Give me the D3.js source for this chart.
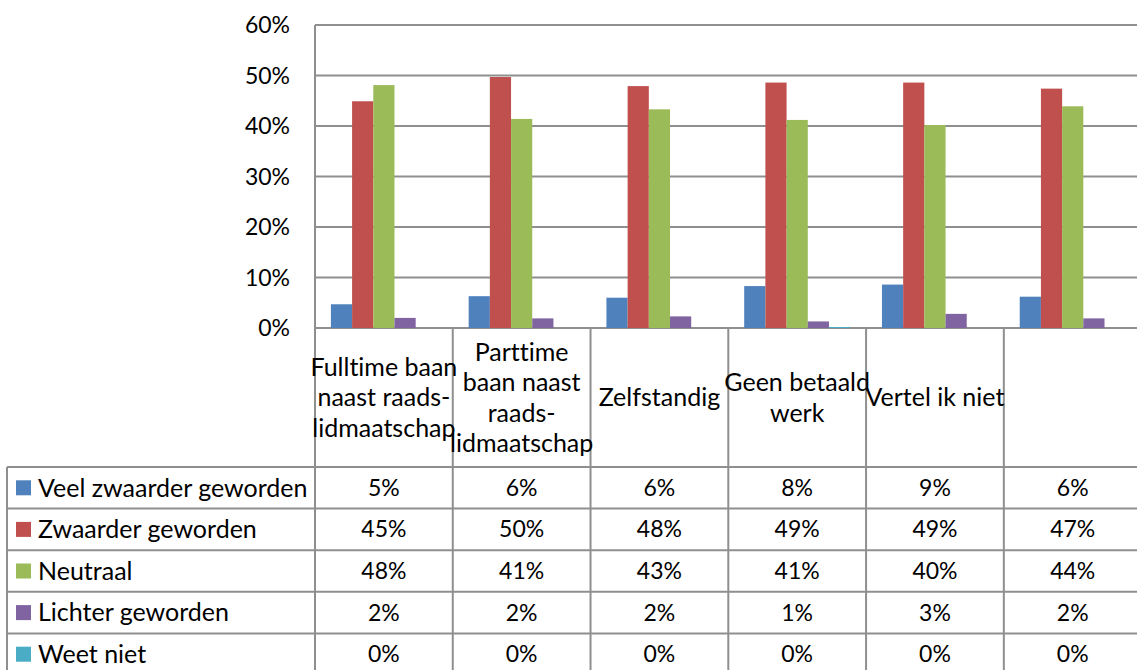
<!DOCTYPE html>
<html>
<head>
<meta charset="utf-8">
<script src="https://cdn.jsdelivr.net/npm/d3@7"></script>
<style>
  body { margin: 0; background: #fff; }
  svg text { font-family: Lato, "Open Sans", sans-serif; fill: #000; font-variant-ligatures: none; }
</style>
</head>
<body>
<div id="chart"></div>
<script>
// categories (header row of the data table), wrapped as in the original
const categories = [
  ["Fulltime baan", "naast raads-", "lidmaatschap"],
  ["Parttime", "baan naast", "raads-", "lidmaatschap"],
  ["Zelfstandig"],
  ["Geen betaald", "werk"],
  ["Vertel ik niet"],
  [""]
];

const seriesNames = ["Veel zwaarder geworden", "Zwaarder geworden", "Neutraal", "Lichter geworden", "Weet niet"];
const seriesColors = ["#4F81BD", "#C0504D", "#9BBB59", "#8064A2", "#4BACC6"];

// percentages per category
const veelZwaarder = [4.7, 6.3, 6.0, 8.3, 8.6, 6.2];
const zwaarder     = [44.9, 49.7, 47.9, 48.6, 48.6, 47.4];
const neutraal     = [48.1, 41.4, 43.3, 41.2, 40.2, 43.9];
const lichter      = [2.0, 1.9, 2.3, 1.3, 2.8, 1.9];
const weetNiet     = [0, 0, 0, 0.2, 0, 0];

const yTicks = [0, 10, 20, 30, 40, 50, 60];

const series = [veelZwaarder, zwaarder, neutraal, lichter, weetNiet];

const width = 1137, height = 670;
const plotLeft = 315, plotRight = 1141.6, plotTop = 25, plotBottom = 328;
const headerBottom = 467, rowH = 41.6, tableLeft = 7;
const gridColor = "#8f8f8f";
const numSize = 23;   // percentages
const wordSize = 25;  // names and categories

const svg = d3.select("#chart").append("svg")
  .attr("width", width).attr("height", height);

const y = d3.scaleLinear().domain([0, 60]).range([plotBottom, plotTop]);
const x = d3.scaleBand().domain(d3.range(categories.length)).range([plotLeft, plotRight]);
const step = x.bandwidth();
const barW = step / 6.5; // gap width 150%
const xSub = d3.scaleBand().domain(d3.range(series.length))
  .range([barW * 0.75, step - barW * 0.75]);

// gridlines
svg.append("g").selectAll("line").data(yTicks).enter().append("line")
  .attr("x1", plotLeft).attr("x2", plotRight)
  .attr("y1", d => y(d)).attr("y2", d => y(d))
  .attr("stroke", gridColor).attr("stroke-width", 2);

// y labels
svg.append("g").selectAll("text").data(yTicks).enter().append("text")
  .attr("x", 290).attr("y", d => y(d))
  .attr("dy", "0.35em")
  .attr("text-anchor", "end")
  .attr("font-size", numSize)
  .text(d => d + "%");

// bars
series.forEach((vals, s) => {
  svg.append("g").selectAll("rect").data(vals).enter().append("rect")
    .attr("x", (d, i) => x(i) + xSub(s))
    .attr("width", xSub.bandwidth())
    .attr("y", d => y(d))
    .attr("height", d => y(0) - y(d))
    .attr("fill", seriesColors[s]);
});

// table lines
const nRows = series.length;
const tableBottom = headerBottom + rowH * nRows;
const g = svg.append("g").attr("stroke", gridColor).attr("stroke-width", 2);

// vertical lines: y axis and category separators
d3.range(categories.length + 1).forEach(i => {
  const xx = i < categories.length ? x(i) : plotRight;
  g.append("line").attr("x1", xx).attr("x2", xx)
    .attr("y1", i === 0 ? plotTop : plotBottom).attr("y2", tableBottom);
});
// left border of the series column
g.append("line").attr("x1", tableLeft).attr("x2", tableLeft)
  .attr("y1", headerBottom).attr("y2", tableBottom);
// horizontal row lines
d3.range(nRows + 1).forEach(r => {
  const yy = headerBottom + r * rowH;
  g.append("line").attr("x1", tableLeft).attr("x2", plotRight)
    .attr("y1", yy).attr("y2", yy);
});

// category labels
const lineH = 30.5;
const headMid = (plotBottom + headerBottom) / 2;
categories.forEach((lines, i) => {
  const t = svg.append("text")
    .attr("text-anchor", "middle")
    .attr("font-size", wordSize);
  const y0 = headMid - (lines.length - 1) * lineH / 2;
  lines.forEach((ln, k) => {
    t.append("tspan")
      .attr("x", x(i) + step / 2)
      .attr("y", y0 + k * lineH)
      .attr("dy", "0.35em")
      .text(ln);
  });
});

// series rows: legend key, name, values
series.forEach((vals, s) => {
  const cy = headerBottom + s * rowH + rowH / 2;
  svg.append("rect")
    .attr("x", 16).attr("y", cy - 7.5)
    .attr("width", 15).attr("height", 15)
    .attr("fill", seriesColors[s]);
  svg.append("text")
    .attr("x", 38).attr("y", cy).attr("dy", "0.35em")
    .attr("font-size", wordSize)
    .text(seriesNames[s]);
  svg.append("g").selectAll("text").data(vals).enter().append("text")
    .attr("x", (d, i) => x(i) + step / 2)
    .attr("y", cy).attr("dy", "0.35em")
    .attr("text-anchor", "middle")
    .attr("font-size", numSize)
    .text(d => Math.round(d) + "%");
});
</script>
</body>
</html>
